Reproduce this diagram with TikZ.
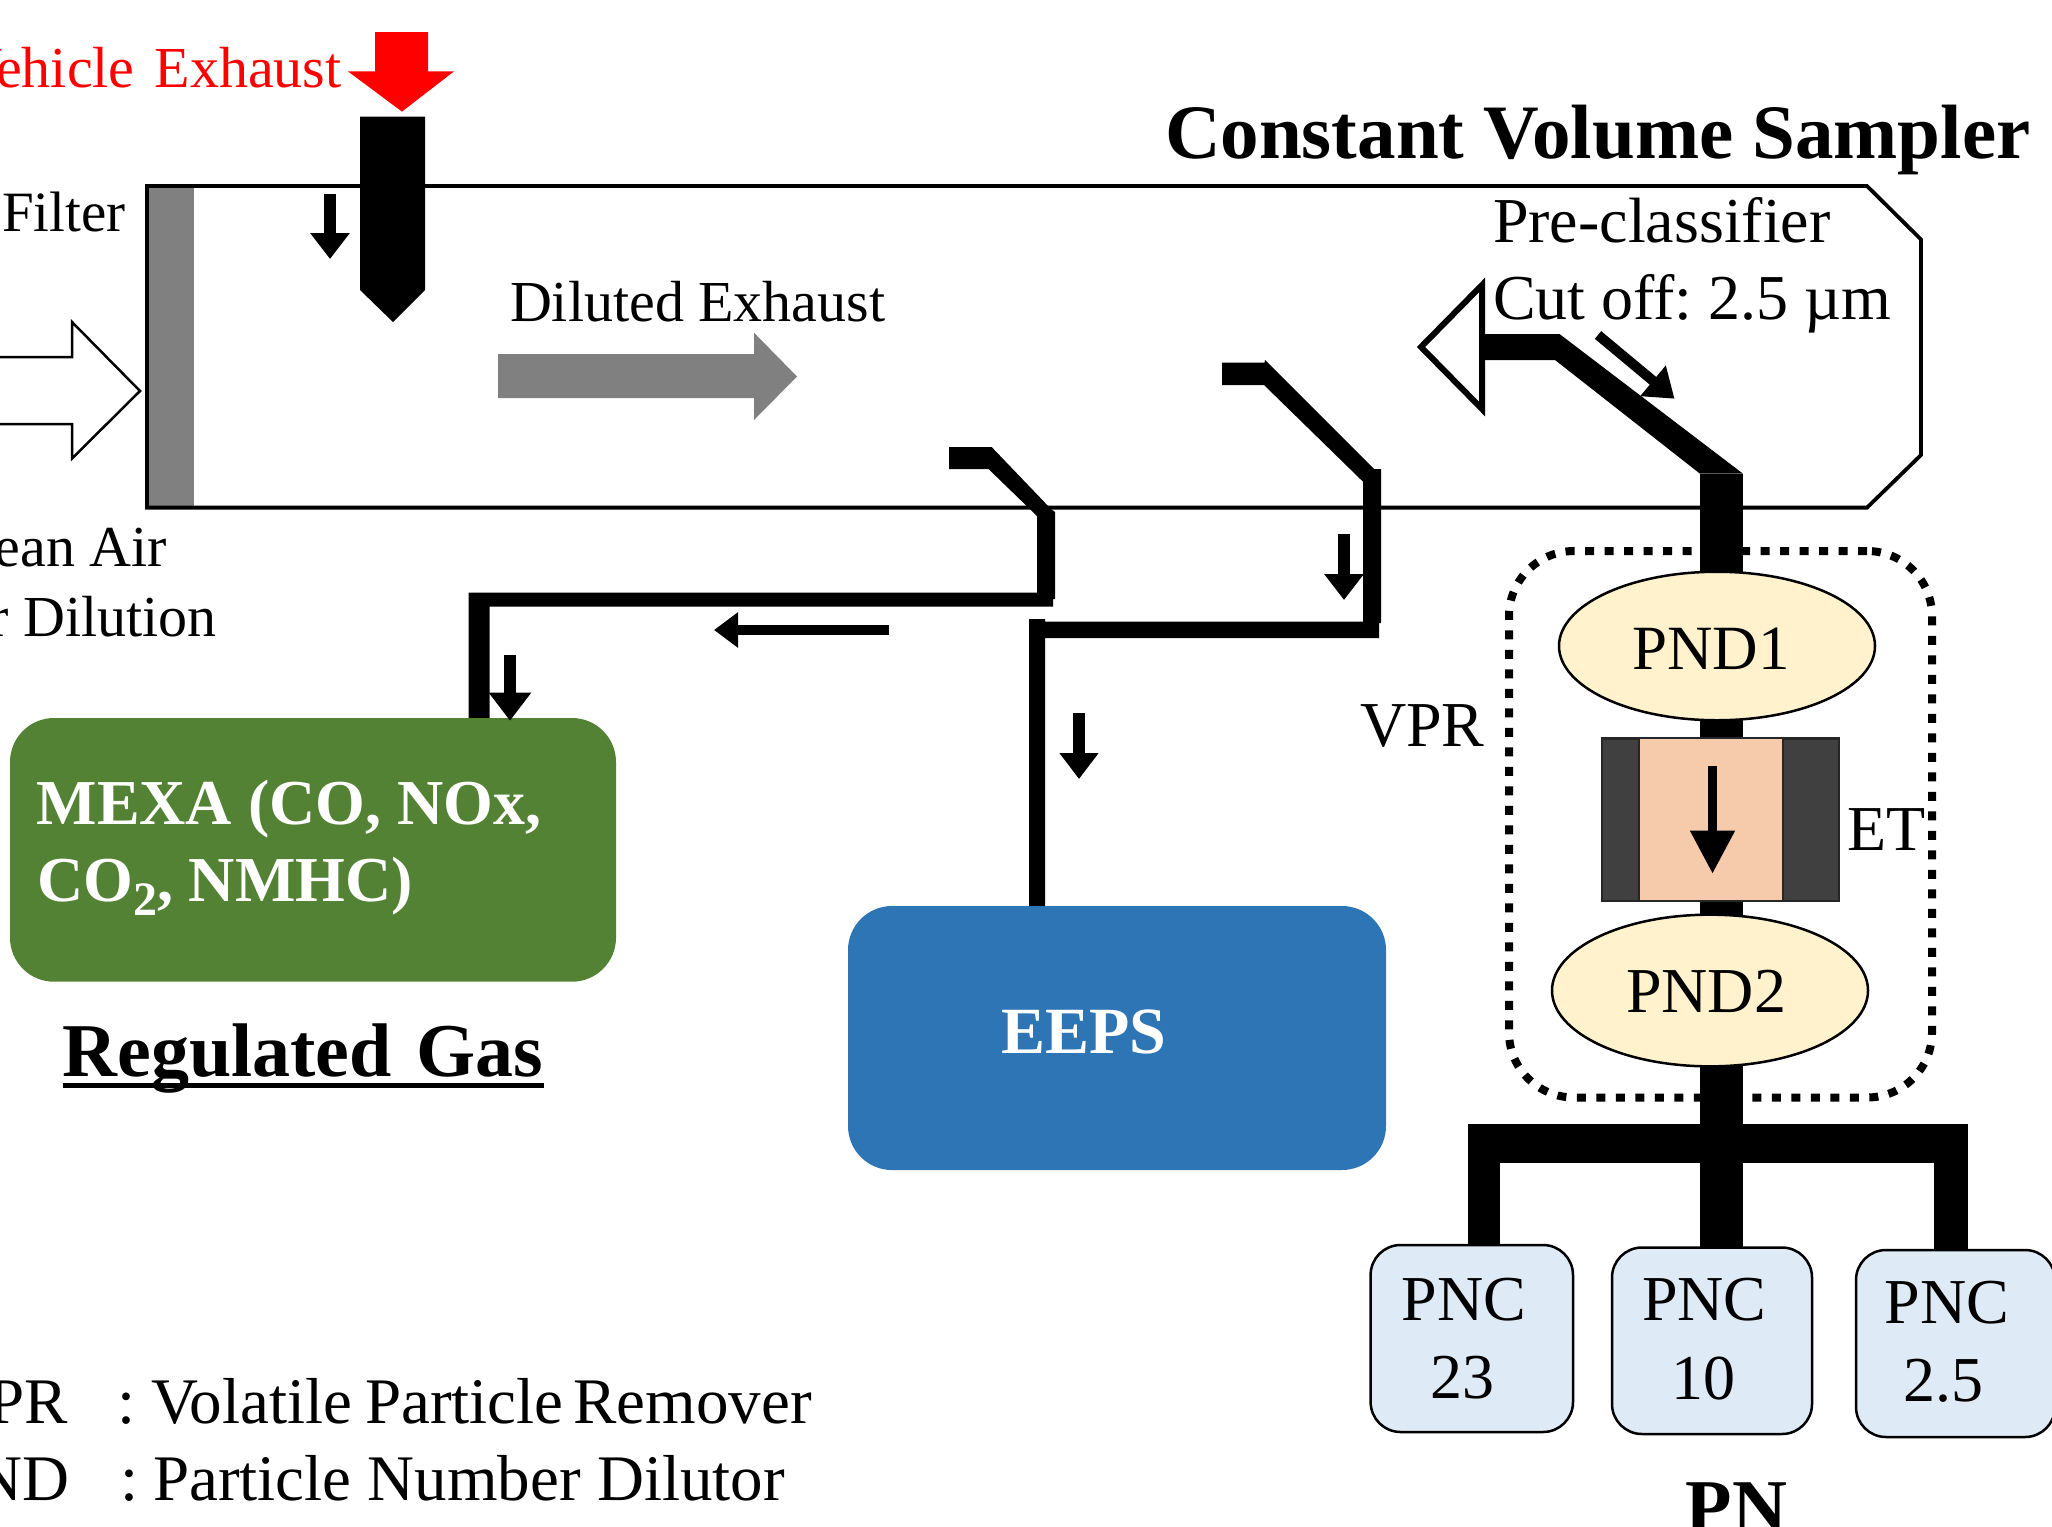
\documentclass[tikz,border=0pt]{standalone}
\usepackage{fontspec}
\setmainfont{Liberation Serif}
\usetikzlibrary{arrows.meta,shapes.geometric,backgrounds}
\newcommand{\fs}[1]{\fontsize{#1}{#1}\selectfont}
\newcommand{\placed}[3]{\raisebox{#2pt}[0pt][0pt]{\makebox[0pt][l]{\hspace*{#1pt}#3}}}
\definecolor{mexagreen}{HTML}{548235}
\definecolor{eepsblue}{HTML}{2E75B6}
\definecolor{pndfill}{HTML}{FFF2CC}
\definecolor{pncfill}{HTML}{DEEAF6}
\definecolor{etcorefill}{HTML}{F6CBAC}
\definecolor{etdark}{HTML}{404040}
\definecolor{filtergray}{HTML}{808080}
\definecolor{exred}{HTML}{FF0000}
\tikzset{
  shapebox/.style={inner sep=0pt,outer sep=0pt},
  label text/.style={inner sep=0pt,outer sep=0pt,anchor=base west,font=\fs{58}},
  ell/.style={shapebox,ellipse,draw=black,line width=2.5pt,fill=pndfill,minimum width=316pt,minimum height=#1,font=\fs{63}},
  pnc/.style={shapebox,rectangle,draw=black,line width=2.5pt,fill=pncfill,rounded corners=30pt,font=\fs{64}},
  panel/.style={shapebox,rectangle,rounded corners=44pt,text=white,font=\bfseries\fs{64}},
  flow/.style n args={3}{draw=black,line width=#1pt,-{Triangle[length=#2pt,width=#3pt]}},
  mainpipe/.style={draw=black,line width=43pt},
}
\begin{document}
\begin{tikzpicture}[x=1pt,y=-1pt]
\useasboundingbox (0,0) rectangle (2052,1526);

% instrument nodes
\node[panel,fill=mexagreen,minimum width=606pt,minimum height=263.7pt] (mexa) at (313,849.85)
  {\placed{-276.4}{25.85}{MEXA (CO, NOx,}\placed{-276}{-51.15}{CO\raisebox{-14pt}{\fs{48}2}, NMHC)}};
\node[panel,fill=eepsblue,minimum width=538pt,minimum height=264pt] (eeps) at (1117,1038)
  {\placed{-116}{-15}{\fs{66}EEPS}};
\node[ell=148.5pt] (pnd1) at (1717,646) {\placed{-85}{-23.6}{PND1}};
\node[ell=151.7pt] (pnd2) at (1710,990.5) {\placed{-84}{-22.3}{\fs{64}PND2}};
\node[shapebox,rectangle,draw=black!85,line width=2.5pt,fill=etdark,minimum width=237pt,minimum height=162.6pt] (et) at (1720.5,819.7) {};
\node[shapebox,rectangle,draw=black!85,line width=2pt,fill=etcorefill,minimum width=144.3pt,minimum height=162.6pt] (etcore) at (1710.85,819.7) {};
\node[pnc,minimum width=202.4pt,minimum height=187pt] (pnc23) at (1471.8,1338.5)
  {\placed{-70.3}{18}{PNC}\placed{-41.2}{-60}{23}};
\node[pnc,minimum width=200pt,minimum height=186.5pt] (pnc10) at (1712,1340.75)
  {\placed{-70}{20}{PNC}\placed{-41}{-58.25}{10}};
\node[pnc,minimum width=199pt,minimum height=187pt] (pnc25) at (1955.5,1343.5)
  {\placed{-71}{20}{PNC}\placed{-52}{-58}{2.5}};

% named points of the sampling lines
\coordinate (mexaL) at (468.7,0);
\coordinate (mexaR) at (489.7,0);
\coordinate (eepsL) at (1029,0);
\coordinate (eepsR) at (1045,0);
\coordinate (maintop) at (1721.5,473.7);
\coordinate (legL) at (1483.75,1124);
\coordinate (legR) at (1950.85,1124);

\begin{scope}[on background layer]
  % sampler body
  \fill[filtergray] (147,186) rectangle (194,507.6);
  \draw[line width=3.8pt,line join=miter] (147,186) -- (1867,186) -- (1921,239.5) -- (1921,455) -- (1867,507.6) -- (147,507.6) -- cycle;
  % VPR dotted enclosure
  \node[shapebox,rectangle,draw=black,line width=8pt,dash pattern=on 9pt off 10.5pt,rounded corners=65pt,minimum width=423pt,minimum height=546.5pt] (vpr) at (1720.5,824.25) {};
  % exhaust probe
  \fill (360,116.5) -- (425,116.5) -- (425,290) -- (393,322) -- (360,290) -- cycle;
  % line to MEXA
  \fill (949,447) -- (991.6,447) -- (1051,509) -- (1055,512) -- (1055,599) -- (1053,599) -- (1053,606.7)
     -- (mexaR |- 0,606.7) -- (mexaR |- mexa.north) -- (mexaL |- mexa.north) -- (mexaL |- 0,592.7)
     -- (1037,592.7) -- (1037,516) -- (988.5,469) -- (949,469) -- cycle;
  % line to EEPS
  \fill (1222,362.7) -- (1264.6,362.7) -- (1265,360) -- (1374,469) -- (1381,469) -- (1381,623) -- (1379,623) -- (1379,638)
     -- (eepsR |- 0,638) -- (eepsR |- eeps.north) -- (eepsL |- eeps.north) -- (eepsL |- 0,619) -- (eepsR |- 0,619) -- (eepsR |- 0,621.7)
     -- (1363,621.7) -- (1363,481.7) -- (1264,385) -- (1222,385) -- cycle;
  % pre-classifier and main line
  \fill (1482,334) -- (1559.5,334) -- (1743,473.7) -- (1700,473.7) -- (1555,360) -- (1482,360) -- cycle;
  \draw[mainpipe] (maintop) -- (maintop |- pnd1.center);
  \draw[mainpipe] (maintop |- pnd1.center) -- (maintop |- et.north);
  \draw[mainpipe] (maintop |- et.south) -- (maintop |- pnd2.center);
  \draw[mainpipe] (maintop |- pnd2.center) -- (maintop |- pnc10.north);
  % manifold
  \fill (1468,1124) rectangle (1967.7,1162.6);
  \draw[draw=black,line width=31.5pt] (legL) -- (legL |- pnc23.north);
  \draw[draw=black,line width=33.7pt] (legR) -- (legR |- pnc25.north);
\end{scope}

% pre-classifier cone
\draw[line width=6pt,fill=white,line join=miter] (1482,285) -- (1482,409) -- (1421,347) -- cycle;

% block arrows
\draw[line width=2.5pt,fill=white,line join=miter] (-5,357) -- (72,357) -- (72,322) -- (140,391) -- (72,458.5) -- (72,424) -- (-5,424);
\fill[exred] (375,32) -- (428,32) -- (428,71.4) -- (454,71.4) -- (402,111.6) -- (348,71.4) -- (375,71.4) -- cycle;
\fill[filtergray] (498,354) -- (754,354) -- (754,332.7) -- (797,376.5) -- (754,420) -- (754,398) -- (498,398) -- cycle;

% flow arrows
\draw[flow={11.5}{26}{38}] (330,194) -- (330,259);
\draw[flow={11.5}{28}{40.6}] (510,655) -- (510,720.7);
\draw[flow={10}{24}{34}] (889,630) -- (714,630);
\draw[flow={12}{26}{38}] (1344,534) -- (1344,600);
\draw[flow={11.5}{26}{37.5}] (1079,713) -- (1079,779);
\draw[flow={9}{43}{42.6}] (1712.5,766) -- (1712.5,873.7);
\draw[flow={10}{28}{38}] (1598,335) -- (1674.5,398.7);

% free labels
\node[label text,anchor=base east,text=exred] (vehicle) at (341.5,87.5) {Vehicle\hspace{20pt}Exhaust};
\node[label text,font=\bfseries\fs{77}] (cvs) at (1165,158) {Constant Volume Sampler};
\node[label text,font=\fs{57}] (filter) at (2,231) {Filter};
\node[label text] (diluted) at (510,321) {Diluted Exhaust};
\node[label text] (clean) at (-60,566) {Clean Air};
\node[label text] (dilution) at (-59,636) {for Dilution};
\node[label text,font=\fs{64}] (precl) at (1493,242.5) {Pre-classifier};
\node[label text,font=\fs{64}] (cutoff) at (1493,319.3) {Cut off:\hspace{16pt}2.5 µm};
\node[label text,font=\fs{64}] (vprl) at (1360,746) {VPR};
\node[label text,font=\fs{64}] (etl) at (1847,850.6) {ET};
\node[label text,font=\bfseries\fs{76}] (reg) at (62.5,1076) {Regulated\hspace{25pt}Gas};
\draw[line width=4.5pt] ([yshift=-9.7pt]reg.base west) -- ([yshift=-9.7pt]reg.base east);
\node[label text,font=\bfseries\fs{76}] (pn) at (1685.7,1532) {PN};
\node[label text,font=\fs{65},anchor=base east] (lv) at (67.7,1423) {VPR};
\node[label text,font=\fs{65}] (lvc) at (117,1423) {:};
\node[label text,font=\fs{65}] (lvt) at (151,1423) {Volatile\hspace{13pt}Particle\hspace{10pt}Remover};
\node[label text,font=\fs{65},anchor=base east] (lp) at (69,1500) {PND};
\node[label text,font=\fs{65}] (lpc) at (120,1500) {:};
\node[label text,font=\fs{65}] (lpt) at (153,1500) {Particle Number Dilutor};
\end{tikzpicture}
\end{document}
